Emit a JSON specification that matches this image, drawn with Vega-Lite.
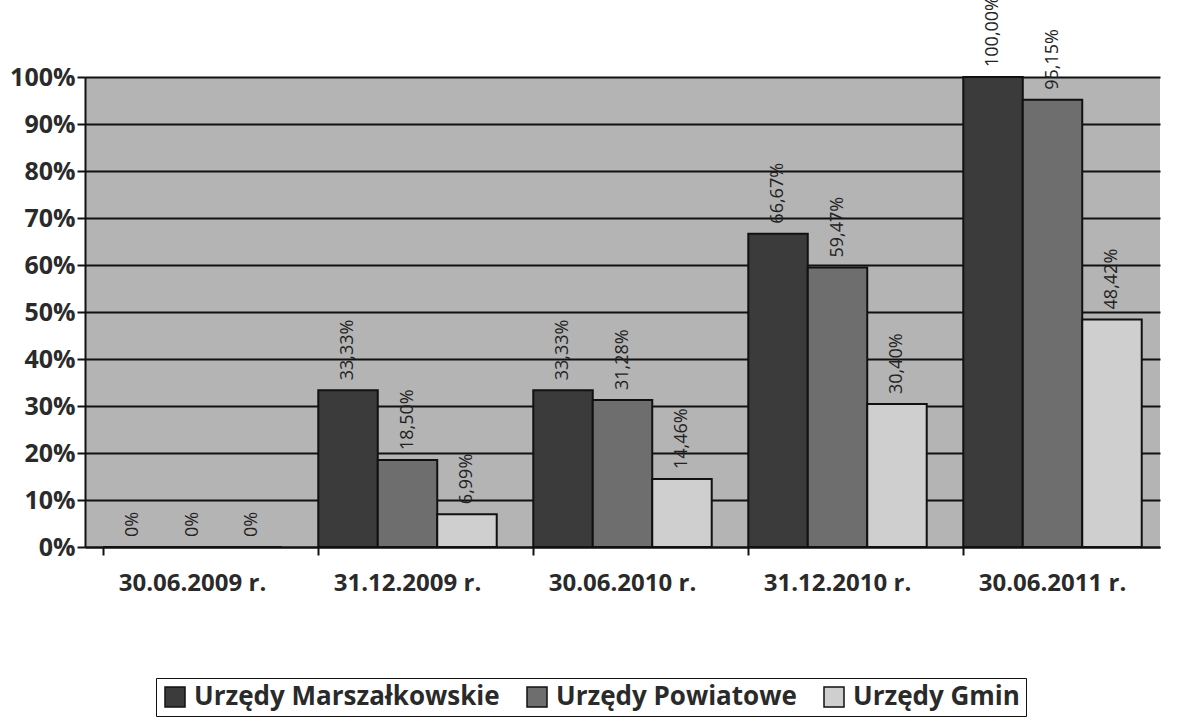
{
  "$schema": "https://vega.github.io/schema/vega-lite/v6.json",
  "width": 1075,
  "height": 470,
  "autosize": {"type": "none"},
  "padding": {"left": 85, "top": 77, "right": 17, "bottom": 181},
  "background": "white",
  "config": {
    "view": {"fill": "#b4b4b4", "stroke": null},
    "font": "Open Sans"
  },
  "data": {
    "values": [
      {"okres": "30.06.2009 r.", "seria": "Urzędy Marszałkowskie", "wartosc": 0, "etykieta": "0%"},
      {"okres": "30.06.2009 r.", "seria": "Urzędy Powiatowe", "wartosc": 0, "etykieta": "0%"},
      {"okres": "30.06.2009 r.", "seria": "Urzędy Gmin", "wartosc": 0, "etykieta": "0%"},
      {"okres": "31.12.2009 r.", "seria": "Urzędy Marszałkowskie", "wartosc": 33.33, "etykieta": "33,33%"},
      {"okres": "31.12.2009 r.", "seria": "Urzędy Powiatowe", "wartosc": 18.50, "etykieta": "18,50%"},
      {"okres": "31.12.2009 r.", "seria": "Urzędy Gmin", "wartosc": 6.99, "etykieta": "6,99%"},
      {"okres": "30.06.2010 r.", "seria": "Urzędy Marszałkowskie", "wartosc": 33.33, "etykieta": "33,33%"},
      {"okres": "30.06.2010 r.", "seria": "Urzędy Powiatowe", "wartosc": 31.28, "etykieta": "31,28%"},
      {"okres": "30.06.2010 r.", "seria": "Urzędy Gmin", "wartosc": 14.46, "etykieta": "14,46%"},
      {"okres": "31.12.2010 r.", "seria": "Urzędy Marszałkowskie", "wartosc": 66.67, "etykieta": "66,67%"},
      {"okres": "31.12.2010 r.", "seria": "Urzędy Powiatowe", "wartosc": 59.47, "etykieta": "59,47%"},
      {"okres": "31.12.2010 r.", "seria": "Urzędy Gmin", "wartosc": 30.40, "etykieta": "30,40%"},
      {"okres": "30.06.2011 r.", "seria": "Urzędy Marszałkowskie", "wartosc": 100.00, "etykieta": "100,00%"},
      {"okres": "30.06.2011 r.", "seria": "Urzędy Powiatowe", "wartosc": 95.15, "etykieta": "95,15%"},
      {"okres": "30.06.2011 r.", "seria": "Urzędy Gmin", "wartosc": 48.42, "etykieta": "48,42%"}
    ]
  },
  "encoding": {
    "x": {
      "field": "okres", "type": "nominal", "sort": null,
      "scale": {"paddingInner": 0.17, "paddingOuter": 0.085},
      "axis": {
        "title": null, "labelAngle": 0, "labelFont": "Open Sans", "labelFontSize": 24, "labelFontWeight": "bold",
        "labelColor": "#2a2a2a", "labelPadding": 16, "domainColor": "#111", "domainWidth": 2,
        "tickColor": "#111", "tickWidth": 2, "tickSize": 8, "bandPosition": 0
      }
    },
    "xOffset": {"field": "seria", "type": "nominal", "sort": ["Urzędy Marszałkowskie", "Urzędy Powiatowe", "Urzędy Gmin"], "scale": {"paddingInner": 0, "paddingOuter": 0}},
    "y": {
      "field": "wartosc", "type": "quantitative",
      "scale": {"domain": [0, 100], "nice": false},
      "axis": {
        "title": null, "values": [0, 10, 20, 30, 40, 50, 60, 70, 80, 90, 100],
        "labelExpr": "datum.value + '%'", "labelFont": "Open Sans", "labelFontSize": 25, "labelFontWeight": "bold",
        "labelColor": "#2a2a2a", "labelPadding": 2, "tickSize": 8, "tickColor": "#111", "tickWidth": 2,
        "domainColor": "#111", "domainWidth": 2,
        "grid": true, "gridColor": "#111", "gridWidth": 2
      }
    }
  },
  "layer": [
    {
      "mark": {"type": "bar", "stroke": "#111", "strokeWidth": 2},
      "encoding": {
        "fill": {
          "field": "seria", "type": "nominal",
          "sort": ["Urzędy Marszałkowskie", "Urzędy Powiatowe", "Urzędy Gmin"],
          "scale": {"domain": ["Urzędy Marszałkowskie", "Urzędy Powiatowe", "Urzędy Gmin"], "range": ["#3b3b3b", "#6e6e6e", "#cfcfcf"]},
          "legend": {
            "title": null, "orient": "none", "direction": "horizontal", "legendX": 71, "legendY": 601,
            "labelFont": "Open Sans", "labelFontSize": 26, "labelFontWeight": "bold", "labelColor": "#2a2a2a", "labelLimit": 0,
            "symbolType": "square", "symbolSize": 400, "symbolStrokeColor": "#111", "symbolStrokeWidth": 1.5,
            "strokeColor": "#111", "padding": 6, "columnPadding": 24, "labelOffset": 6,
            "fillColor": "white"
          }
        }
      }
    },
    {
      "mark": {"type": "text", "angle": 270, "align": "left", "baseline": "middle", "dx": 10, "fontSize": 18, "font": "Open Sans", "color": "#222"},
      "encoding": {
        "text": {"field": "etykieta"}
      }
    }
  ]
}
